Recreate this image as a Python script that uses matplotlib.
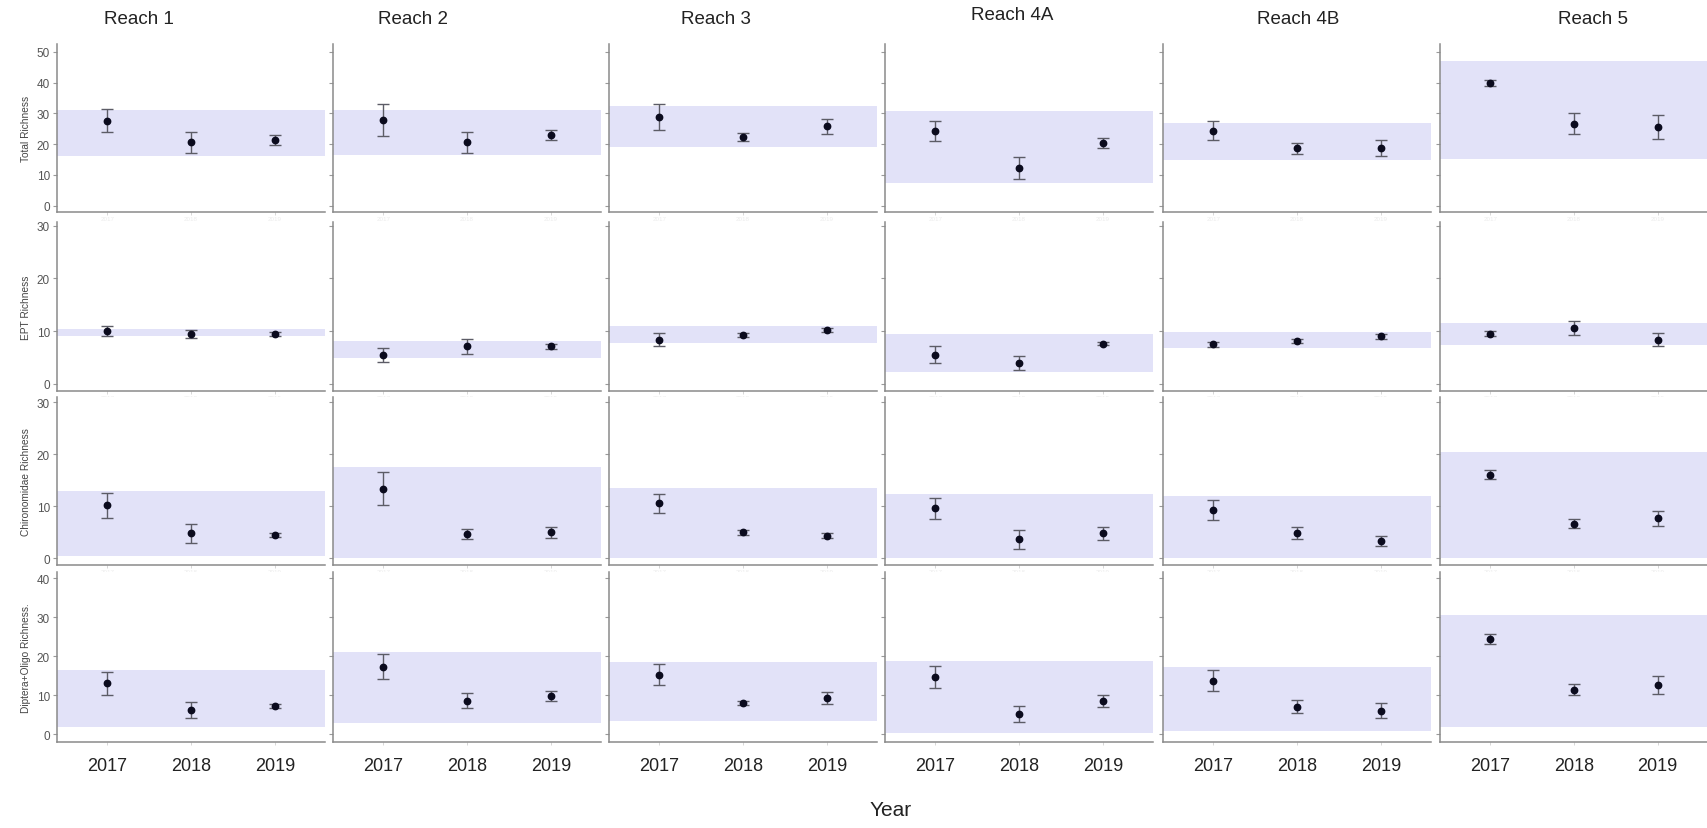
import matplotlib
matplotlib.use("Agg")
import matplotlib.pyplot as plt

plt.rcParams["font.family"] = ["Liberation Sans", "DejaVu Sans"]

# ---- data -------------------------------------------------------------
reaches = ["Reach 1", "Reach 2", "Reach 3", "Reach 4A", "Reach 4B", "Reach 5"]
years = [2017, 2018, 2019]
metric_labels = ["Total Richness", "EPT Richness",
                 "Chironomidae Richness", "Diptera+Oligo Richness."]

# mean per reach (rows) and year (columns)
total_mean = [[27.6, 20.6, 21.4], [27.9, 20.6, 23.0], [28.9, 22.2, 25.8],
              [24.2, 12.2, 20.4], [24.4, 18.7, 18.7], [40.0, 26.7, 25.7]]
total_err = [[3.8, 3.4, 1.7], [5.2, 3.4, 1.7], [4.3, 1.3, 2.4],
             [3.2, 3.6, 1.7], [3.0, 1.8, 2.6], [1.0, 3.5, 3.9]]
total_lo = [16.0, 16.4, 19.2, 7.2, 14.8, 15.1]
total_hi = [31.1, 31.2, 32.3, 30.9, 26.9, 47.0]

ept_mean = [[10.1, 9.5, 9.5], [5.5, 7.1, 7.1], [8.4, 9.3, 10.2],
            [5.5, 3.9, 7.6], [7.5, 8.2, 9.0], [9.5, 10.6, 8.4]]
ept_err = [[0.95, 0.8, 0.4], [1.3, 1.5, 0.55], [1.2, 0.4, 0.4],
           [1.6, 1.3, 0.3], [0.5, 0.4, 0.5], [0.5, 1.3, 1.2]]
ept_lo = [9.1, 4.9, 7.8, 2.2, 6.8, 7.3]
ept_hi = [10.4, 8.2, 10.9, 9.5, 9.8, 11.5]

chiro_mean = [[10.2, 4.8, 4.5], [13.4, 4.65, 5.0], [10.6, 5.0, 4.4],
              [9.6, 3.7, 4.8], [9.3, 4.9, 3.4], [16.1, 6.7, 7.7]]
chiro_err = [[2.4, 1.9, 0.4], [3.2, 1.0, 1.0], [1.8, 0.4, 0.5],
             [2.1, 1.8, 1.3], [1.9, 1.2, 1.0], [0.9, 0.9, 1.5]]
chiro_lo = [0.4, 0.1, 0.0, 0.0, 0.0, 0.0]
chiro_hi = [12.9, 17.5, 13.6, 12.3, 11.9, 20.5]

dipt_mean = [[13.1, 6.2, 7.2], [17.4, 8.6, 9.8], [15.3, 8.1, 9.4],
             [14.7, 5.2, 8.5], [13.8, 7.1, 6.1], [24.5, 11.5, 12.6]]
dipt_err = [[3.0, 2.0, 0.5], [3.1, 1.9, 1.3], [2.7, 0.5, 1.6],
            [2.8, 2.1, 1.5], [2.7, 1.7, 1.85], [1.3, 1.5, 2.3]]
dipt_lo = [1.8, 2.9, 3.4, 0.3, 1.0, 2.0]
dipt_hi = [16.4, 21.2, 18.5, 18.9, 17.2, 30.5]

means = [total_mean, ept_mean, chiro_mean, dipt_mean]
errs = [total_err, ept_err, chiro_err, dipt_err]
band_lo = [total_lo, ept_lo, chiro_lo, dipt_lo]
band_hi = [total_hi, ept_hi, chiro_hi, dipt_hi]

row_ylim = [(-2.0, 52.6), (-1.3, 30.7), (-1.25, 31.0), (-1.85, 41.6)]
row_ticks = [[0, 10, 20, 30, 40, 50], [0, 10, 20, 30], [0, 10, 20, 30],
             [0, 10, 20, 30, 40]]

# ---- figure -----------------------------------------------------------
W, H = 1708, 829
fig = plt.figure(figsize=(W / 100, H / 100), dpi=100)

col_left = [57, 333, 609, 885, 1163, 1440]
col_w = 268
row_top = [45, 223, 398, 573]
row_bot = [212.7, 391.7, 566, 742.7]

band_color = "#E2E2F8"
spine_color = "#8a8a8a"

for r in range(4):
    for c in range(6):
        x0 = col_left[c] / W
        y0 = 1 - row_bot[r] / H
        h = (row_bot[r] - row_top[r]) / H
        ax = fig.add_axes([x0, y0, col_w / W, h])
        ax.set_xlim(2016.4, 2019.6)
        ax.set_ylim(*row_ylim[r])
        ax.axhspan(band_lo[r][c], band_hi[r][c], color=band_color, lw=0, zorder=1)
        ax.errorbar(years, means[r][c], yerr=errs[r][c], fmt="o",
                    color="#0b0b1e", ms=4.6, ecolor="#5c5c66",
                    elinewidth=1.0, capsize=4.2, capthick=1.0, zorder=3)
        for s in ("top", "right"):
            ax.spines[s].set_visible(False)
        for s in ("left", "bottom"):
            ax.spines[s].set_color(spine_color)
            ax.spines[s].set_linewidth(1.1)
        ax.set_yticks(row_ticks[r])
        ax.set_xticks(years)
        ax.tick_params(axis="y", length=3, width=0.8, color="#9a9a9a",
                       labelsize=8.5, labelcolor="#555555", pad=2)
        ax.tick_params(axis="x", length=2, width=0.6, color="#d0d0d0")
        if c == 0:
            ax.set_ylabel(metric_labels[r], fontsize=7.3, color="#444444",
                          labelpad=4)
        else:
            ax.set_yticklabels([])
        if r == 3:
            ax.set_xticklabels([str(y) for y in years], fontsize=13,
                               color="#222222")
            ax.tick_params(axis="x", pad=9)
        else:
            ax.set_xticklabels([str(y) for y in years], fontsize=4.5,
                               color="#ececec")
            ax.tick_params(axis="x", pad=1)

# column titles
title_x = [139, 413, 716, 1012, 1298, 1593]
title_y = [20, 20, 20, 16, 20, 20]
for name, tx, ty in zip(reaches, title_x, title_y):
    fig.text(tx / W, 1 - ty / H, name, ha="center", va="center",
             fontsize=13.5, color="#222222")

fig.text(891 / W, 1 - 811 / H, "Year", ha="center", va="center",
         fontsize=15, color="#222222")

fig.savefig("out.png", dpi=100, facecolor="white")
